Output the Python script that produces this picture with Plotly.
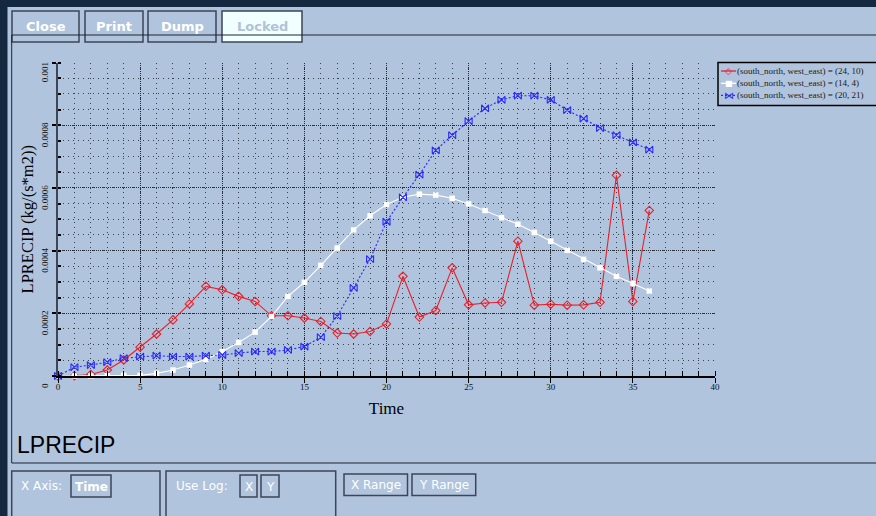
import plotly.graph_objects as go

# ---- data -------------------------------------------------------------
time = [0, 1, 2, 3, 4, 5, 6, 7, 8, 9, 10, 11, 12, 13, 14, 15, 16, 17, 18,
        19, 20, 21, 22, 23, 24, 25, 26, 27, 28, 29, 30, 31, 32, 33, 34, 35, 36]

lprecip_24_10 = [0, 1e-6, 5e-6, 1.9e-5, 5.1e-5, 9.2e-5, 1.34e-4, 1.79e-4, 2.30e-4,
                 2.86e-4, 2.75e-4, 2.54e-4, 2.38e-4, 1.92e-4, 1.92e-4, 1.85e-4,
                 1.74e-4, 1.37e-4, 1.34e-4, 1.42e-4, 1.66e-4, 3.18e-4, 1.88e-4,
                 2.09e-4, 3.45e-4, 2.27e-4, 2.33e-4, 2.35e-4, 4.30e-4, 2.26e-4,
                 2.29e-4, 2.26e-4, 2.27e-4, 2.35e-4, 6.40e-4, 2.38e-4, 5.28e-4]

lprecip_14_4 = [0, 0, 0, 1e-6, 2e-6, 2e-6, 8.5e-6, 1.9e-5, 3.5e-5, 5.3e-5, 7.8e-5,
                1.07e-4, 1.40e-4, 1.90e-4, 2.54e-4, 2.99e-4, 3.53e-4, 4.08e-4,
                4.66e-4, 5.11e-4, 5.47e-4, 5.70e-4, 5.80e-4, 5.77e-4, 5.67e-4,
                5.49e-4, 5.28e-4, 5.05e-4, 4.84e-4, 4.58e-4, 4.30e-4, 4.01e-4,
                3.72e-4, 3.45e-4, 3.18e-4, 2.95e-4, 2.71e-4]

lprecip_20_21 = [0, 2.8e-5, 3.5e-5, 4.4e-5, 5.7e-5, 6.2e-5, 6.5e-5, 6.2e-5, 6.2e-5,
                 6.5e-5, 6.7e-5, 7.3e-5, 7.8e-5, 7.8e-5, 8.3e-5, 9.4e-5, 1.24e-4,
                 1.91e-4, 2.81e-4, 3.73e-4, 4.92e-4, 5.70e-4, 6.42e-4, 7.20e-4,
                 7.68e-4, 8.13e-4, 8.54e-4, 8.81e-4, 8.94e-4, 8.94e-4, 8.81e-4,
                 8.48e-4, 8.21e-4, 7.91e-4, 7.68e-4, 7.45e-4, 7.22e-4]

series_names = ["(south_north, west_east) = (24, 10)",
                "(south_north, west_east) = (14, 4)",
                "(south_north, west_east) = (20, 21)"]

x_tick_vals = [0, 5, 10, 15, 20, 25, 30, 35, 40]
x_tick_text = ["0", "5", "10", "15", "20", "25", "30", "35", "40"]
y_tick_vals = [0, 0.0002, 0.0004, 0.0006, 0.0008, 0.001]
y_tick_text = ["0", "0.0002", "0.0004", "0.0006", "0.0008", "0.001"]

# ---- styling ----------------------------------------------------------
W, H = 876, 516
PANEL = "#b0c4de"
NAVY = "#142840"
EDGE = "#3c4656"
GRID_MAJOR = "#262b33"
GRID_MINOR = "#3a414d"
SERIF = "Liberation Serif, Times New Roman, serif"
SANS = "DejaVu Sans, sans-serif"

RED = "rgb(232,32,42)"
WHITE = "#ffffff"
BLUE = "rgb(40,40,255)"


def px(x):
    return x / W


def py(y):
    return 1 - y / H


fig = go.Figure()

fig.add_trace(go.Scatter(
    x=time, y=lprecip_24_10, name=series_names[0], mode="lines+markers",
    line=dict(color=RED, width=1.1),
    marker=dict(symbol="diamond-open", size=6.5, color=RED, line=dict(width=1.1)),
    cliponaxis=False, showlegend=False))
fig.add_trace(go.Scatter(
    x=time, y=lprecip_14_4, name=series_names[1], mode="lines+markers",
    line=dict(color=WHITE, width=1.1),
    marker=dict(symbol="square", size=5.5, color=WHITE),
    cliponaxis=False, showlegend=False))
fig.add_trace(go.Scatter(
    x=time, y=lprecip_20_21, name=series_names[2], mode="lines+markers",
    line=dict(color=BLUE, width=1.1, dash="2px,2px"),
    marker=dict(symbol="bowtie-open", size=7, color=BLUE, line=dict(width=1.1)),
    cliponaxis=False, showlegend=False))

fig.update_layout(
    width=W, height=H,
    margin=dict(l=0, r=0, t=0, b=0, autoexpand=False),
    paper_bgcolor=PANEL, plot_bgcolor=PANEL,
    showlegend=False,
    xaxis=dict(
        domain=[px(58), px(715)], range=[0, 40],
        tickmode="array", tickvals=x_tick_vals, ticktext=x_tick_text,
        ticks="outside", ticklen=5, tickcolor="#000", tickwidth=1,
        ticklabelstandoff=-4,
        tickfont=dict(family=SERIF, size=9, color="#111"),
        showline=True, linecolor="#000", linewidth=1.5,
        showgrid=True, gridcolor=GRID_MAJOR, griddash="1px,1px", gridwidth=1,
        zeroline=False,
        minor=dict(tick0=0, dtick=1, ticks="inside", ticklen=5, tickcolor="#000",
                   showgrid=True, gridcolor=GRID_MINOR, griddash="1px,4px", gridwidth=1),
        title=dict(text="Time", font=dict(family=SERIF, size=17, color="#000"), standoff=12),
    ),
    yaxis=dict(
        domain=[py(376), py(62.5)], range=[0, 0.001],
        tickmode="array", tickvals=y_tick_vals, ticktext=y_tick_text,
        tickangle=-90, ticklabelshift=11,
        ticks="outside", ticklen=4, tickcolor="#000", tickwidth=1.5,
        tickfont=dict(family=SERIF, size=9, color="#111"),
        showline=True, linecolor=EDGE, linewidth=2,
        showgrid=True, gridcolor=GRID_MAJOR, griddash="1px,1px", gridwidth=1,
        zeroline=False,
        minor=dict(tick0=0, dtick=0.00005, ticks="inside", ticklen=3, tickcolor="#000",
                   showgrid=True, gridcolor=GRID_MINOR, griddash="1px,4px", gridwidth=1),
        title=dict(text="LPRECIP (kg/(s*m2))", font=dict(family=SERIF, size=16.5, color="#000"),
                   standoff=3),
    ),
)

shapes = []
annotations = []


def rect(x0, y0, x1, y1, fill=None, line=EDGE, lw=1.5):
    shapes.append(dict(type="rect", xref="paper", yref="paper",
                       x0=px(x0), x1=px(x1), y0=py(y1), y1=py(y0),
                       fillcolor=fill if fill else "rgba(0,0,0,0)",
                       line=dict(color=line, width=lw), layer="below" if fill else "above"))


def seg(x0, y0, x1, y1, color="#1e2530", lw=1, dash="solid"):
    shapes.append(dict(type="line", xref="paper", yref="paper",
                       x0=px(x0), x1=px(x1), y0=py(y0), y1=py(y1),
                       line=dict(color=color, width=lw, dash=dash)))


def label(x, y, text, size=12, color="#fff", family=SANS, anchor="left", bold=False):
    if bold:
        text = "<b>" + text + "</b>"
    annotations.append(dict(xref="paper", yref="paper", x=px(x), y=py(y), text=text,
                            showarrow=False, xanchor=anchor, yanchor="middle",
                            font=dict(family=family, size=size, color=color)))


# window chrome
shapes.append(dict(type="rect", xref="paper", yref="paper", x0=0, x1=1, y0=py(7), y1=1,
                   fillcolor=NAVY, line=dict(width=0), layer="below"))
shapes.append(dict(type="rect", xref="paper", yref="paper", x0=0, x1=px(7.5), y0=0, y1=1,
                   fillcolor=NAVY, line=dict(width=0), layer="below"))

# frame around the plotting region
seg(11.7, 35, 876, 35)
seg(11.7, 35, 11.7, 463)
seg(11.7, 463, 876, 463)

# top buttons
buttons = [("Close", 12, 79), ("Print", 85, 143), ("Dump", 148, 216)]
for text, x0, x1 in buttons:
    rect(x0, 11, x1, 42, fill=PANEL)
    label((x0 + x1) / 2, 26.5, text, size=13, anchor="center", bold=True)
rect(222, 11, 302, 42, fill="#f0ffff")
label(262, 26.5, "Locked", size=13, color="#b2c2d8", anchor="center", bold=True)

# variable title
label(15, 445, "LPRECIP", size=23, color="#000", family="Liberation Sans, Arial, sans-serif")

# bottom control panels
rect(11.7, 471, 160, 522, fill=PANEL)
rect(166, 471, 335.7, 522, fill=PANEL)
label(19, 486, "X Axis:", size=12)
rect(71, 475, 111, 497, fill=PANEL)
label(91, 486.5, "Time", size=12, anchor="center", bold=True)
label(174, 486, "Use Log:", size=12)
rect(240, 475, 257, 497, fill=PANEL)
label(248.5, 486.5, "X", size=12, anchor="center")
rect(261, 475, 279, 497, fill=PANEL)
label(270, 486.5, "Y", size=12, anchor="center")
rect(344, 474, 407.5, 495.5, fill=PANEL)
label(375.7, 485, "X Range", size=12, anchor="center")
rect(412, 474, 475.7, 495.5, fill=PANEL)
label(443.8, 485, "Y Range", size=12, anchor="center")

# legend box
rect(718, 62.5, 890, 105.5, line="#000", lw=1.5)
legend_rows = [
    (71, RED, "solid", "\u25c7", 9),
    (83.3, WHITE, "solid", "\u25a0", 8),
    (95.3, BLUE, "2px,2px", "\u22c8", 10),
]
for (ry, color, dash, glyph, gsize), name in zip(legend_rows, series_names):
    seg(721, ry, 736, ry, color=color, lw=1.3, dash=dash)
    label(728.5, ry, glyph, size=gsize, color=color, family="DejaVu Sans", anchor="center")
    label(735, ry, name, size=9, color="#1a1a1a", family=SERIF)

fig.update_layout(shapes=shapes, annotations=annotations)

fig.write_html("out.html")
